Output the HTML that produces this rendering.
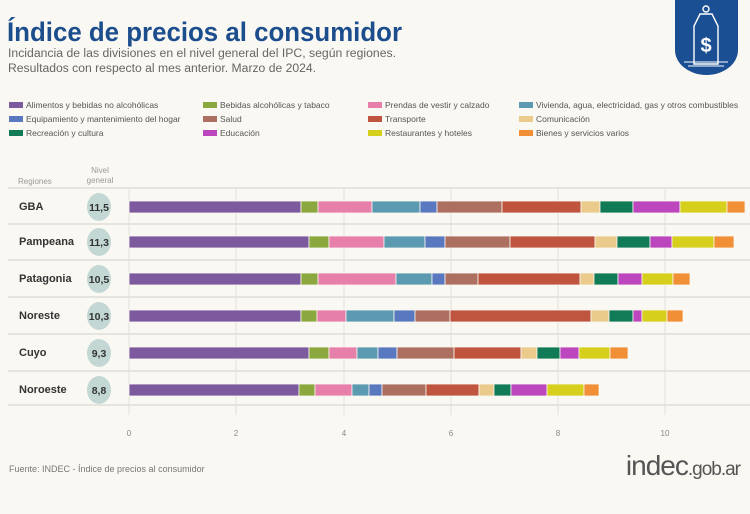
<!DOCTYPE html>
<html><head><meta charset="utf-8"><style>
body{margin:0;background:#faf8f2;}
svg{display:block;font-family:"Liberation Sans",sans-serif;}
</style></head><body>
<svg width="750" height="514" viewBox="0 0 750 514" xmlns="http://www.w3.org/2000/svg">
<rect width="750" height="514" fill="#faf8f2"/>
<text x="7" y="41" font-size="27" font-weight="bold" fill="#1c4e8d" textLength="395" lengthAdjust="spacingAndGlyphs">Índice de precios al consumidor</text>
<text x="8" y="57" font-size="11.5" fill="#666" textLength="388" lengthAdjust="spacingAndGlyphs">Incidancia de las divisiones en el nivel general del IPC, según regiones.</text>
<text x="8" y="72" font-size="11.5" fill="#666" textLength="308" lengthAdjust="spacingAndGlyphs">Resultados con respecto al mes anterior. Marzo de 2024.</text>
<!-- logo -->
<path d="M675 0 H738 V50 A31.5 25 0 0 1 675 50 Z" fill="#1b4f93"/>
<g fill="none" stroke="#fff" stroke-width="1.4">
<path d="M700 14 L712 14 L718 26 L718 64 L694 64 L694 26 Z"/>
<circle cx="706" cy="9" r="3"/>
</g>
<text x="706" y="52" font-size="20" font-weight="bold" fill="#fff" text-anchor="middle">$</text>
<g stroke="#fff" stroke-width="1"><line x1="684" y1="62" x2="728" y2="62"/><line x1="688" y1="66" x2="724" y2="66"/></g>
<!-- legend -->
<g font-size="8.5" fill="#555">
<rect x="9" y="102" width="14" height="6" fill="#7d5a9e"/><text x="26" y="108">Alimentos y bebidas no alcohólicas</text>
<rect x="9" y="116" width="14" height="6" fill="#5a78c0"/><text x="26" y="122">Equipamiento y mantenimiento del hogar</text>
<rect x="9" y="130" width="14" height="6" fill="#117a57"/><text x="26" y="136">Recreación y cultura</text>
<rect x="203" y="102" width="14" height="6" fill="#8aa83d"/><text x="220" y="108">Bebidas alcohólicas y tabaco</text>
<rect x="203" y="116" width="14" height="6" fill="#ad6f60"/><text x="220" y="122">Salud</text>
<rect x="203" y="130" width="14" height="6" fill="#bb46be"/><text x="220" y="136">Educación</text>
<rect x="368" y="102" width="14" height="6" fill="#e67fa9"/><text x="385" y="108">Prendas de vestir y calzado</text>
<rect x="368" y="116" width="14" height="6" fill="#c0553f"/><text x="385" y="122">Transporte</text>
<rect x="368" y="130" width="14" height="6" fill="#d6cf1b"/><text x="385" y="136">Restaurantes y hoteles</text>
<rect x="519" y="102" width="14" height="6" fill="#5b9ab0"/><text x="536" y="108">Vivienda, agua, electricidad, gas y otros combustibles</text>
<rect x="519" y="116" width="14" height="6" fill="#ebcb8b"/><text x="536" y="122">Comunicación</text>
<rect x="519" y="130" width="14" height="6" fill="#f08f35"/><text x="536" y="136">Bienes y servicios varios</text>
</g>
<!-- headers -->
<text x="18" y="184" font-size="8" fill="#999">Regiones</text>
<text x="100" y="173" font-size="8" fill="#999" text-anchor="middle">Nivel</text>
<text x="100" y="183" font-size="8" fill="#999" text-anchor="middle">general</text>
<!-- grid -->
<g stroke="#e2e0da" stroke-width="1">
<line x1="129" y1="188" x2="129" y2="415"/><line x1="236" y1="188" x2="236" y2="415"/><line x1="344" y1="188" x2="344" y2="415"/><line x1="451" y1="188" x2="451" y2="415"/><line x1="558" y1="188" x2="558" y2="415"/><line x1="665" y1="188" x2="665" y2="415"/>
</g>
<g stroke="#e0ded8" stroke-width="1.5">
<line x1="8" y1="188" x2="750" y2="188"/><line x1="8" y1="224" x2="750" y2="224"/><line x1="8" y1="260" x2="750" y2="260"/><line x1="8" y1="297" x2="750" y2="297"/><line x1="8" y1="334" x2="750" y2="334"/><line x1="8" y1="371" x2="750" y2="371"/><line x1="8" y1="405" x2="750" y2="405"/>
</g>
<g font-size="8" fill="#888" text-anchor="middle">
<text x="129" y="436">0</text><text x="236" y="436">2</text><text x="344" y="436">4</text><text x="451" y="436">6</text><text x="558" y="436">8</text><text x="665" y="436">10</text>
</g>
<!-- rows -->
<g font-size="11" fill="#333" font-weight="bold">
<text x="19" y="210">GBA</text><text x="19" y="245">Pampeana</text><text x="19" y="282">Patagonia</text><text x="19" y="319">Noreste</text><text x="19" y="356">Cuyo</text><text x="19" y="393">Noroeste</text>
</g>
<g fill="#c3d8d5">
<ellipse cx="99" cy="207" rx="12" ry="14"/><ellipse cx="99" cy="242" rx="12" ry="14"/><ellipse cx="99" cy="279" rx="12" ry="14"/><ellipse cx="99" cy="316" rx="12" ry="14"/><ellipse cx="99" cy="353" rx="12" ry="14"/><ellipse cx="99" cy="390" rx="12" ry="14"/>
</g>
<g font-size="10.5" fill="#333" font-weight="bold" text-anchor="middle">
<text x="99" y="211">11,5</text><text x="99" y="246">11,3</text><text x="99" y="283">10,5</text><text x="99" y="320">10,3</text><text x="99" y="357">9,3</text><text x="99" y="394">8,8</text>
</g>
<g stroke="#faf8f2" stroke-width="0.8">
<!-- GBA -->
<rect x="129" y="201" width="172" height="12" fill="#7d5a9e"/><rect x="301" y="201" width="17" height="12" fill="#8aa83d"/><rect x="318" y="201" width="54" height="12" fill="#e67fa9"/><rect x="372" y="201" width="48" height="12" fill="#5b9ab0"/><rect x="420" y="201" width="17" height="12" fill="#5a78c0"/><rect x="437" y="201" width="65" height="12" fill="#ad6f60"/><rect x="502" y="201" width="79" height="12" fill="#c0553f"/><rect x="581" y="201" width="19" height="12" fill="#ebcb8b"/><rect x="600" y="201" width="33" height="12" fill="#117a57"/><rect x="633" y="201" width="47" height="12" fill="#bb46be"/><rect x="680" y="201" width="47" height="12" fill="#d6cf1b"/><rect x="727" y="201" width="18" height="12" fill="#f08f35"/>
<!-- Pampeana -->
<rect x="129" y="236" width="180" height="12" fill="#7d5a9e"/><rect x="309" y="236" width="20" height="12" fill="#8aa83d"/><rect x="329" y="236" width="55" height="12" fill="#e67fa9"/><rect x="384" y="236" width="41" height="12" fill="#5b9ab0"/><rect x="425" y="236" width="20" height="12" fill="#5a78c0"/><rect x="445" y="236" width="65" height="12" fill="#ad6f60"/><rect x="510" y="236" width="85" height="12" fill="#c0553f"/><rect x="595" y="236" width="22" height="12" fill="#ebcb8b"/><rect x="617" y="236" width="33" height="12" fill="#117a57"/><rect x="650" y="236" width="22" height="12" fill="#bb46be"/><rect x="672" y="236" width="42" height="12" fill="#d6cf1b"/><rect x="714" y="236" width="20" height="12" fill="#f08f35"/>
<!-- Patagonia -->
<rect x="129" y="273" width="172" height="12" fill="#7d5a9e"/><rect x="301" y="273" width="17" height="12" fill="#8aa83d"/><rect x="318" y="273" width="78" height="12" fill="#e67fa9"/><rect x="396" y="273" width="36" height="12" fill="#5b9ab0"/><rect x="432" y="273" width="13" height="12" fill="#5a78c0"/><rect x="445" y="273" width="33" height="12" fill="#ad6f60"/><rect x="478" y="273" width="102" height="12" fill="#c0553f"/><rect x="580" y="273" width="14" height="12" fill="#ebcb8b"/><rect x="594" y="273" width="24" height="12" fill="#117a57"/><rect x="618" y="273" width="24" height="12" fill="#bb46be"/><rect x="642" y="273" width="31" height="12" fill="#d6cf1b"/><rect x="673" y="273" width="17" height="12" fill="#f08f35"/>
<!-- Noreste -->
<rect x="129" y="310" width="172" height="12" fill="#7d5a9e"/><rect x="301" y="310" width="16" height="12" fill="#8aa83d"/><rect x="317" y="310" width="29" height="12" fill="#e67fa9"/><rect x="346" y="310" width="48" height="12" fill="#5b9ab0"/><rect x="394" y="310" width="21" height="12" fill="#5a78c0"/><rect x="415" y="310" width="35" height="12" fill="#ad6f60"/><rect x="450" y="310" width="141" height="12" fill="#c0553f"/><rect x="591" y="310" width="18" height="12" fill="#ebcb8b"/><rect x="609" y="310" width="24" height="12" fill="#117a57"/><rect x="633" y="310" width="9" height="12" fill="#bb46be"/><rect x="642" y="310" width="25" height="12" fill="#d6cf1b"/><rect x="667" y="310" width="16" height="12" fill="#f08f35"/>
<!-- Cuyo -->
<rect x="129" y="347" width="180" height="12" fill="#7d5a9e"/><rect x="309" y="347" width="20" height="12" fill="#8aa83d"/><rect x="329" y="347" width="28" height="12" fill="#e67fa9"/><rect x="357" y="347" width="21" height="12" fill="#5b9ab0"/><rect x="378" y="347" width="19" height="12" fill="#5a78c0"/><rect x="397" y="347" width="57" height="12" fill="#ad6f60"/><rect x="454" y="347" width="67" height="12" fill="#c0553f"/><rect x="521" y="347" width="16" height="12" fill="#ebcb8b"/><rect x="537" y="347" width="23" height="12" fill="#117a57"/><rect x="560" y="347" width="19" height="12" fill="#bb46be"/><rect x="579" y="347" width="31" height="12" fill="#d6cf1b"/><rect x="610" y="347" width="18" height="12" fill="#f08f35"/>
<!-- Noroeste -->
<rect x="129" y="384" width="170" height="12" fill="#7d5a9e"/><rect x="299" y="384" width="16" height="12" fill="#8aa83d"/><rect x="315" y="384" width="37" height="12" fill="#e67fa9"/><rect x="352" y="384" width="17" height="12" fill="#5b9ab0"/><rect x="369" y="384" width="13" height="12" fill="#5a78c0"/><rect x="382" y="384" width="44" height="12" fill="#ad6f60"/><rect x="426" y="384" width="53" height="12" fill="#c0553f"/><rect x="479" y="384" width="15" height="12" fill="#ebcb8b"/><rect x="494" y="384" width="17" height="12" fill="#117a57"/><rect x="511" y="384" width="36" height="12" fill="#bb46be"/><rect x="547" y="384" width="37" height="12" fill="#d6cf1b"/><rect x="584" y="384" width="15" height="12" fill="#f08f35"/>
</g>
<text x="9" y="472" font-size="9" fill="#777">Fuente: INDEC - Índice de precios al consumidor</text>
<text x="740" y="475" font-size="28" fill="#555" text-anchor="end" letter-spacing="-1">indec<tspan font-size="19">.gob.ar</tspan></text>
</svg>
</body></html>
